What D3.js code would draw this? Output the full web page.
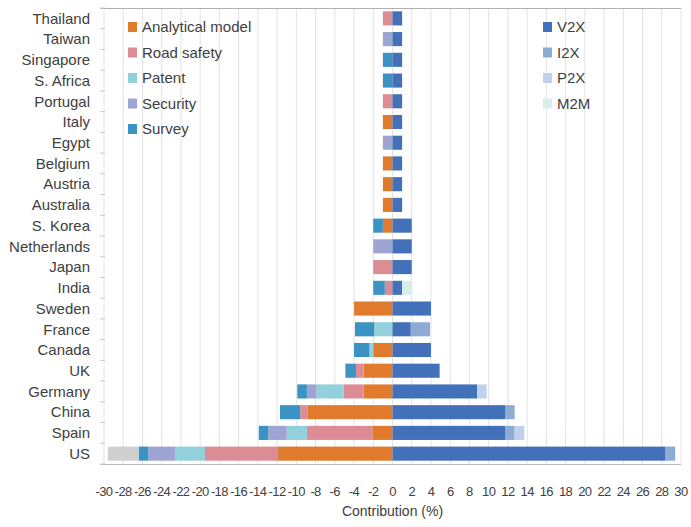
<!DOCTYPE html>
<html>
<head>
<meta charset="utf-8">
<script src="https://cdn.jsdelivr.net/npm/d3@7/dist/d3.min.js"></script>
<style>
  body { margin: 0; background: #fff; }
  text { font-family: "Liberation Sans", Arial, sans-serif; fill: #404040; }
</style>
</head>
<body>
<div id="chart"></div>
<script>
// countries, top to bottom
const countries = ["Thailand", "Taiwan", "Singapore", "S. Africa", "Portugal", "Italy", "Egypt",
  "Belgium", "Austria", "Australia", "S. Korea", "Netherlands", "Japan", "India", "Sweden",
  "France", "Canada", "UK", "Germany", "China", "Spain", "US"];

// left side (drawn as negative contribution)
const analytical = [0, 0, 0, 0, 0, 1, 0, 1, 1, 1, 1, 0, 0, 0, 4, 0, 2, 3, 3, 8.8, 2.1, 11.9];
const roadSafety = [1, 0, 0, 0, 1, 0, 0, 0, 0, 0, 0, 0, 2, 0.8, 0, 0, 0, 0.8, 2.1, 0.8, 6.8, 7.6];
const patent     = [0, 0, 0, 0, 0, 0, 0, 0, 0, 0, 0, 0, 0, 0, 0, 1.9, 0.4, 0, 2.8, 0, 2.1, 3.1];
const security   = [0, 1, 0, 0, 0, 0, 1, 0, 0, 0, 0, 2, 0, 0, 0, 0, 0, 0, 1, 0, 1.9, 2.8];
const survey     = [0, 0, 1, 1, 0, 0, 0, 0, 0, 0, 1, 0, 0, 1.2, 0, 2, 1.6, 1.1, 1, 2.1, 1, 1];
const other      = [0, 0, 0, 0, 0, 0, 0, 0, 0, 0, 0, 0, 0, 0, 0, 0, 0, 0, 0, 0, 0, 3.2];

// right side
const v2x = [1, 1, 1, 1, 1, 1, 1, 1, 1, 1, 2, 2, 2, 1, 4, 1.9, 4, 4.9, 8.8, 11.7, 11.7, 28.4];
const i2x = [0, 0, 0, 0, 0, 0, 0, 0, 0, 0, 0, 0, 0, 0, 0, 2, 0, 0, 0, 1, 1, 1];
const p2x = [0, 0, 0, 0, 0, 0, 0, 0, 0, 0, 0, 0, 0, 0, 0, 0, 0, 0, 1, 0, 1, 0];
const m2m = [0, 0, 0, 0, 0, 0, 0, 0, 0, 0, 0, 0, 0, 1, 0, 0, 0, 0, 0, 0, 0, 0];

const xTicks = d3.range(-30, 31, 2);

const leftKeys = ["Analytical model", "Road safety", "Patent", "Security", "Survey", "Other"];
const rightKeys = ["V2X", "I2X", "P2X", "M2M"];
const colors = {
  "Analytical model": "#e07b2e", "Road safety": "#dc8c95", "Patent": "#92d0dc",
  "Security": "#9ea5d2", "Survey": "#3a93c2", "Other": "#cfcfcf",
  "V2X": "#4271b9", "I2X": "#8eabd3", "P2X": "#bfd1ec", "M2M": "#d7eeea"
};
const leftVals = [analytical, roadSafety, patent, security, survey, other];
const rightVals = [v2x, i2x, p2x, m2m];

let rows = countries.map((c, i) => {
  let r = {country: c};
  leftKeys.forEach((k, j) => r[k] = leftVals[j][i]);
  rightKeys.forEach((k, j) => r[k] = rightVals[j][i]);
  return r;
});

const width = 691, height = 527;
const svg = d3.select("#chart").append("svg")
  .attr("width", width).attr("height", height);

const x = d3.scaleLinear().domain([-30, 30]).range([104, 681]);
const y = d3.scaleBand().domain(countries).range([8, 464]).paddingInner(0.32).paddingOuter(0.16);

// gridlines
svg.append("g").selectAll("line")
  .data(xTicks)
  .join("line")
    .attr("x1", d => x(d)).attr("x2", d => x(d))
    .attr("y1", 8).attr("y2", 464)
    .attr("stroke", "#e3e3e3").attr("stroke-width", 1);

// top border and bottom axis line
svg.append("line").attr("x1", 100).attr("x2", 681).attr("y1", 8.5).attr("y2", 8.5)
  .attr("stroke", "#b0b0b0");
svg.append("line").attr("x1", 100).attr("x2", 681).attr("y1", 464.5).attr("y2", 464.5)
  .attr("stroke", "#b8b8b8");

// category tick marks
const step = y.step();
svg.append("g").selectAll("line")
  .data(d3.range(countries.length + 1))
  .join("line")
    .attr("x1", 100).attr("x2", 105)
    .attr("y1", i => 8 + i * step).attr("y2", i => 8 + i * step)
    .attr("stroke", "#c8c8c8");

const leftStack = d3.stack().keys(leftKeys)(rows);
const rightStack = d3.stack().keys(rightKeys)(rows);

svg.append("g").selectAll("g")
  .data(leftStack)
  .join("g")
    .attr("fill", d => colors[d.key])
  .selectAll("rect")
  .data(d => d)
  .join("rect")
    .attr("x", d => x(-d[1]))
    .attr("width", d => x(-d[0]) - x(-d[1]))
    .attr("y", d => y(d.data.country))
    .attr("height", y.bandwidth());

svg.append("g").selectAll("g")
  .data(rightStack)
  .join("g")
    .attr("fill", d => colors[d.key])
  .selectAll("rect")
  .data(d => d)
  .join("rect")
    .attr("x", d => x(d[0]))
    .attr("width", d => x(d[1]) - x(d[0]))
    .attr("y", d => y(d.data.country))
    .attr("height", y.bandwidth());

// country labels
svg.append("g").selectAll("text")
  .data(countries)
  .join("text")
    .attr("x", 90)
    .attr("y", d => y(d) + y.bandwidth() / 2)
    .attr("dy", "0.35em")
    .attr("text-anchor", "end")
    .attr("font-size", 15)
    .text(d => d);

// x tick labels
svg.append("g").selectAll("text")
  .data(xTicks)
  .join("text")
    .attr("x", d => x(d))
    .attr("y", 491)
    .attr("dy", "0.35em")
    .attr("text-anchor", "middle")
    .attr("font-size", 13)
    .attr("letter-spacing", -0.6)
    .text(d => d);

svg.append("text")
  .attr("x", x(0)).attr("y", 511).attr("dy", "0.35em")
  .attr("text-anchor", "middle").attr("font-size", 14)
  .text("Contribution (%)");

// legends
function legend(keys, lx, ly) {
  let g = svg.append("g");
  keys.forEach((k, i) => {
    g.append("rect").attr("x", lx).attr("y", ly + i * 25.5 - 5)
      .attr("width", 9).attr("height", 10).attr("fill", colors[k]);
    g.append("text").attr("x", lx + 14).attr("y", ly + i * 25.5)
      .attr("dy", "0.35em").attr("font-size", 15).text(k);
  });
}
legend(leftKeys.slice(0, 5), 128, 27);
legend(rightKeys, 543, 27);
</script>
</body>
</html>
